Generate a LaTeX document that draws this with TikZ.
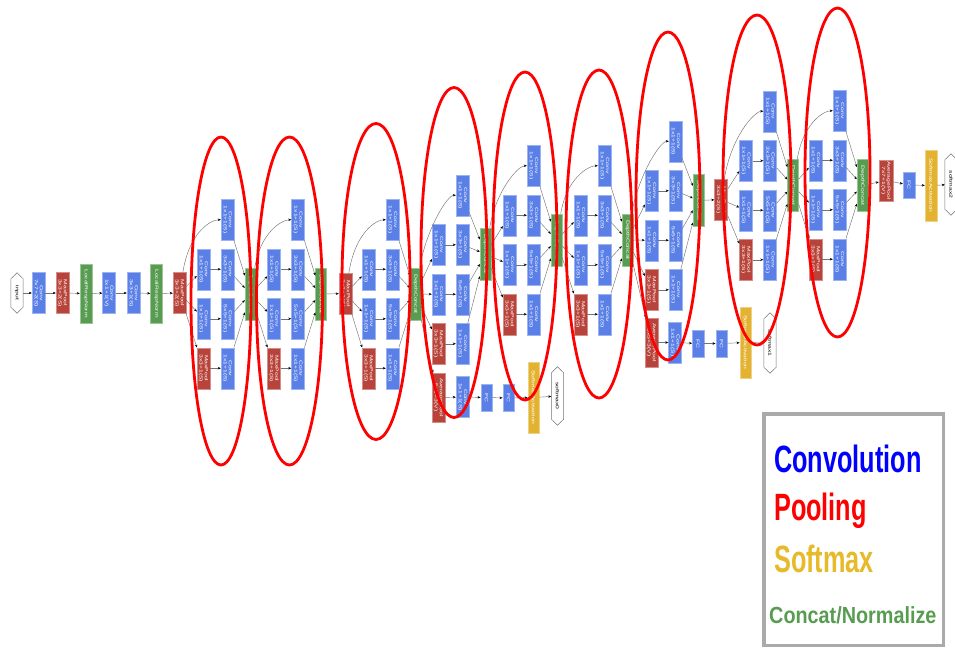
\documentclass[tikz,border=0pt]{standalone}
\usepackage{fontspec}
\setsansfont{Liberation Sans}
\newfontfamily\boxfont[FakeStretch=1.5]{Liberation Sans}
\newfontfamily\legendfont[FakeStretch=0.665]{Liberation Sans}
\newfontfamily\legendsmall[FakeStretch=0.85]{Liberation Sans}
\usepackage{tikz}
\usetikzlibrary{arrows.meta}

\definecolor{convblue}{RGB}{90,128,232}
\definecolor{poolred}{RGB}{184,67,58}
\definecolor{normgreen}{RGB}{88,156,82}
\definecolor{softyellow}{RGB}{227,178,48}
\definecolor{legendgray}{RGB}{170,170,170}

% one inception block: prefix, input node, x of first column, middle y, y of the concat
\newcommand{\incmodule}[5]{%
  \node[conv] (#1b1) at (#3+24,#4-74.25) {Conv\\1x1+1(S)};
  \node[conv] (#1r2) at (#3,#4-24.75) {Conv\\1x1+1(S)};
  \node[conv] (#1b2) at (#3+24,#4-24.75) {Conv\\3x3+1(S)};
  \node[conv] (#1r3) at (#3,#4+24.75) {Conv\\1x1+1(S)};
  \node[conv] (#1b3) at (#3+24,#4+24.75) {Conv\\5x5+1(S)};
  \node[pool] (#1p4) at (#3,#4+74.25) {MaxPool\\3x3+1(S)};
  \node[conv] (#1b4) at (#3+24,#4+74.25) {Conv\\1x1+1(S)};
  \node[concat] (#1cat) at (#3+47,#5) {DepthConcat};
  \draw[arrow] (#2) .. controls +(10,-62) and +(-16,0) .. (#1b1);
  \draw[arrow] (#2) -- (#1r2);
  \draw[arrow] (#2) -- (#1r3);
  \draw[arrow] (#2) -- (#1p4);
  \draw[arrow] (#1r2) -- (#1b2);
  \draw[arrow] (#1r3) -- (#1b3);
  \draw[arrow] (#1p4) -- (#1b4);
  \draw[arrow] (#1b1) -- (#1cat);
  \draw[arrow] (#1b2) -- (#1cat);
  \draw[arrow] (#1b3) -- (#1cat);
  \draw[arrow] (#1b4) -- (#1cat);
}
% outline of a hexagon node
\newcommand{\hexline}[1]{%
  \draw[hexedge] (#1.north) -- ([yshift=-6pt]#1.north east) -- ([yshift=6pt]#1.south east)
    -- (#1.south) -- ([yshift=6pt]#1.south west) -- ([yshift=-6pt]#1.north west) -- cycle;
}

\begin{document}
\begin{tikzpicture}[
  x=1pt, y=-1pt,
  box/.style={rectangle, rotate=-90, inner sep=0pt, minimum width=41pt, minimum height=13pt,
    text=white, align=center, font=\boxfont\fontsize{4.5}{5.2}\selectfont, line width=0.4pt},
  conv/.style={box, fill=convblue, draw=convblue!60!white},
  pool/.style={box, fill=poolred, draw=poolred!60!white},
  concat/.style={box, fill=normgreen, draw=normgreen!60!white, minimum width=52pt, minimum height=11pt},
  lrn/.style={box, fill=normgreen, draw=normgreen!60!white, minimum width=59pt, minimum height=12pt},
  avgpool/.style={pool, minimum width=49pt},
  fc/.style={conv, minimum width=27pt, minimum height=11.5pt},
  softact/.style={box, fill=softyellow, draw=softyellow!60!white, minimum width=71pt, minimum height=11.5pt},
  hexa/.style={rectangle, inner sep=0pt, minimum width=12pt, minimum height=58pt,
    font=\boxfont\fontsize{4.5}{5.2}\selectfont},
  hexedge/.style={draw=black!55, line width=0.5pt},
  arrow/.style={-{Stealth[length=3pt, width=2.5pt, color=black]}, draw=black!55, line width=0.45pt},
  ring/.style={draw=red, line width=2.8pt},
  legendtext/.style={anchor=base west, inner sep=0pt}
]
\useasboundingbox (0,0) rectangle (955,648);

% stem
\node[hexa, minimum height=40pt] (input) at (17,293) {\rotatebox{-90}{input}};
\hexline{input}
\node[conv] (convone) at (38.5,293) {Conv\\7x7+2(S)};
\node[pool] (poolone) at (62.5,293) {MaxPool\\3x3+2(S)};
\node[lrn] (lrnone) at (86,293.5) {LocalRespNorm};
\node[conv] (convtwo) at (109,293) {Conv\\1x1+1(V)};
\node[conv] (convthree) at (133.5,293) {Conv\\3x3+1(S)};
\node[lrn] (lrntwo) at (156.5,293.5) {LocalRespNorm};
\node[pool] (pooltwo) at (179.5,293) {MaxPool\\3x3+2(S)};
\draw[arrow] (input) -- (convone);
\draw[arrow] (convone) -- (poolone);
\draw[arrow] (poolone) -- (lrnone);
\draw[arrow] (lrnone) -- (convtwo);
\draw[arrow] (convtwo) -- (convthree);
\draw[arrow] (convthree) -- (lrntwo);
\draw[arrow] (lrntwo) -- (pooltwo);

% inception 3a, 3b
\incmodule{i3a}{pooltwo}{203.5}{294}{294}
\incmodule{i3b}{i3acat}{274}{294}{294}
\node[pool] (poolthree) at (345.5,293.5) {MaxPool\\3x3+2(S)};
\draw[arrow] (i3bcat) -- (poolthree);

% inception 4a to 4e
\incmodule{i4a}{poolthree}{368.5}{294}{294}
\incmodule{i4b}{i4acat}{438.5}{269.5}{254}
\incmodule{i4c}{i4bcat}{509.5}{240}{240}
\incmodule{i4d}{i4ccat}{580.5}{240}{240}
\incmodule{i4e}{i4dcat}{651.5}{215.5}{200.5}

% first side output
\node[avgpool] (a0pool) at (438.5,397.5) {AveragePool\\5x5+3(V)};
\node[conv] (a0conv) at (462.5,397) {Conv\\1x1+1(S)};
\node[fc] (a0fcone) at (486.5,397.5) {FC};
\node[fc] (a0fctwo) at (508.5,398) {FC};
\node[softact] (a0act) at (533.5,397.5) {SoftmaxActivation};
\node[hexa] (a0out) at (557.5,396) {\rotatebox{-90}{softmax0}};
\hexline{a0out}
\draw[arrow] (i4acat) -- (a0pool);
\draw[arrow] (a0pool) -- (a0conv);
\draw[arrow] (a0conv) -- (a0fcone);
\draw[arrow] (a0fcone) -- (a0fctwo);
\draw[arrow] (a0fctwo) -- (a0act);
\draw[arrow] (a0act) -- (a0out);

% second side output
\node[avgpool] (a1pool) at (651.5,342.5) {AveragePool\\5x5+3(V)};
\node[conv] (a1conv) at (675,342.5) {Conv\\1x1+1(S)};
\node[fc] (a1fcone) at (698,343.5) {FC};
\node[fc] (a1fctwo) at (721.5,343.5) {FC};
\node[softact] (a1act) at (745.5,342.5) {SoftmaxActivation};
\node[hexa, minimum height=60pt] (a1out) at (770,343) {\rotatebox{-90}{softmax1}};
\hexline{a1out}
\draw[arrow] (i4dcat) -- (a1pool);
\draw[arrow] (a1pool) -- (a1conv);
\draw[arrow] (a1conv) -- (a1fcone);
\draw[arrow] (a1fcone) -- (a1fctwo);
\draw[arrow] (a1fctwo) -- (a1act);
\draw[arrow] (a1act) -- (a1out);

\node[pool] (poolfour) at (721,199.5) {MaxPool\\3x3+2(S)};
\draw[arrow] (i4ecat) -- (poolfour);

% inception 5a, 5b
\incmodule{i5a}{poolfour}{746}{185.5}{185.5}
\incmodule{i5b}{i5acat}{815.5}{185}{185.5}

% head
\node[pool, minimum height=14pt] (avgfinal) at (886,180.5) {AveragePool\\7x7+1(V)};
\node[fc, minimum width=26pt, minimum height=12pt] (fcfinal) at (909,185) {FC};
\node[softact, minimum height=12pt] (actfinal) at (931,185.5) {SoftmaxActivation};
\node[hexa, minimum height=61pt] (outfinal) at (951,184.5) {\rotatebox{-90}{softmax2}};
\hexline{outfinal}
\draw[arrow] (i5bcat) -- (avgfinal);
\draw[arrow] (avgfinal) -- (fcfinal);
\draw[arrow] (fcfinal) -- (actfinal);
\draw[arrow] (actfinal) -- (outfinal);

% inception rings
\draw[ring] (221,301) ellipse (30 and 164);
\draw[ring] (289.5,301) ellipse (33 and 164);
\draw[ring] (376,281.5) ellipse (34 and 158);
\draw[ring] (454,252.5) ellipse (33 and 165);
\draw[ring] (525,236) ellipse (32 and 164);
\draw[ring] (599,234) ellipse (33 and 164);
\draw[ring] (668,196) ellipse (32 and 164);
\draw[ring] (757,180) ellipse (34 and 165);
\draw[ring] (837.5,172.5) ellipse (32.5 and 164.5);

% legend
\node[draw=legendgray, line width=3.5pt, inner sep=0pt, minimum width=179.5pt, minimum height=231.5pt] (legendframe) at (853.5,529.5) {};
\node[legendtext, text=blue, font=\legendfont\bfseries\fontsize{38}{40}\selectfont] (lconv) at (774,472) {Convolution};
\node[legendtext, text=red, font=\legendfont\bfseries\fontsize{38}{40}\selectfont] (lpool) at (774,520) {Pooling};
\node[legendtext, text=softyellow!90!yellow, font=\legendfont\bfseries\fontsize{38}{40}\selectfont] (lsoft) at (774,572) {Softmax};
\node[legendtext, text=normgreen, font=\legendsmall\bfseries\fontsize{23.3}{25}\selectfont] (lnorm) at (769,623) {Concat/Normalize};
\end{tikzpicture}
\end{document}
